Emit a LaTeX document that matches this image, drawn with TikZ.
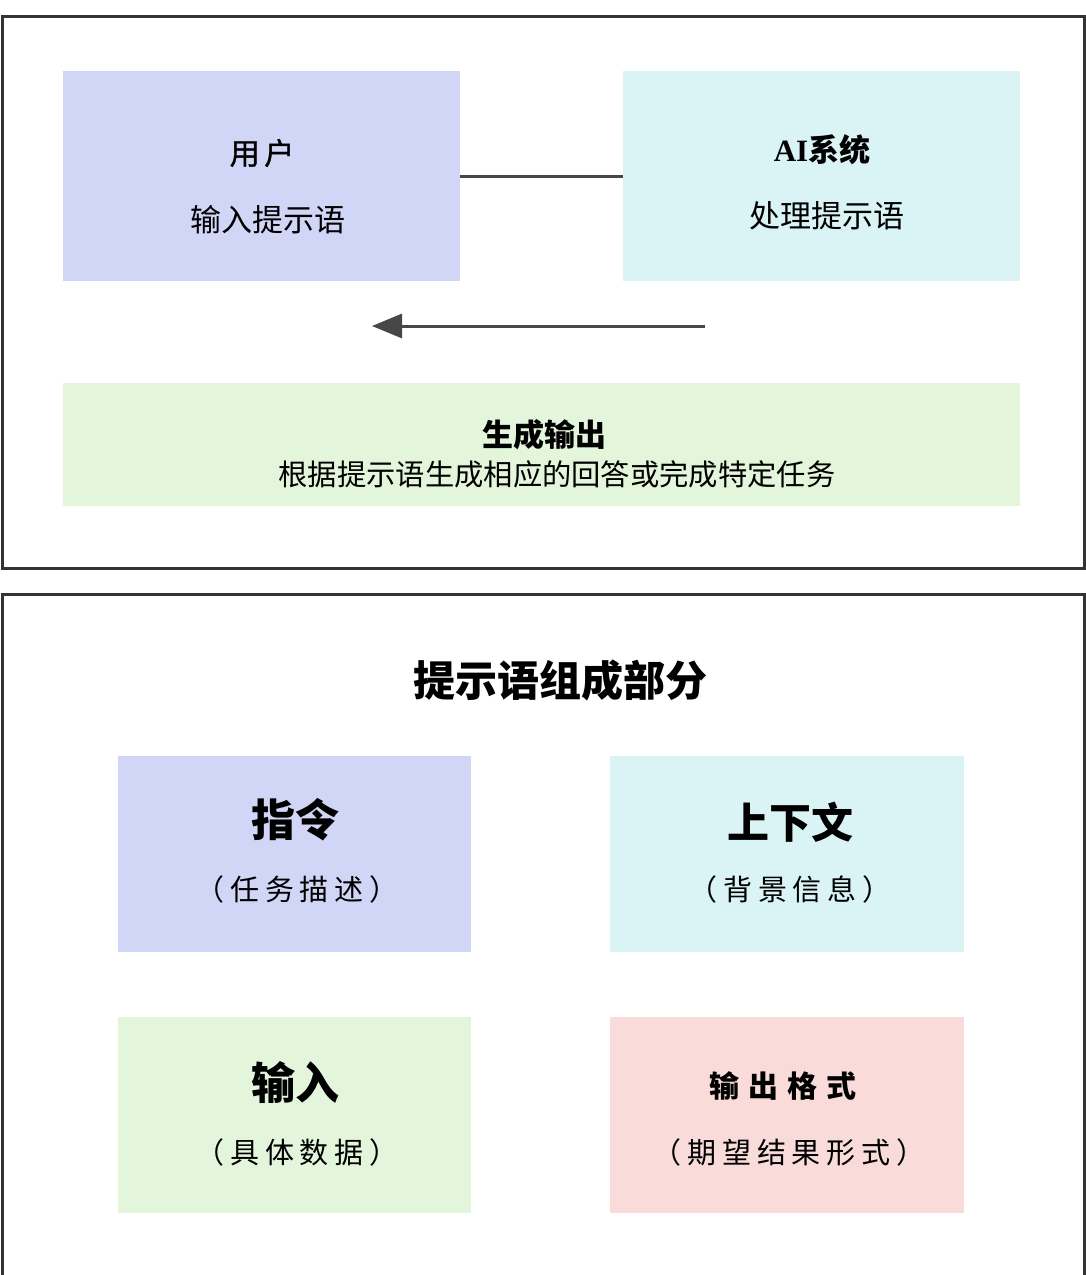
\documentclass[tikz,border=0pt]{standalone}
\usepackage{fontspec}
\setmainfont{Noto Sans CJK SC}
\newfontfamily\cjk{Noto Sans CJK SC}
\newfontfamily\cjkmed[FakeBold=1.2,LetterSpace=15]{Noto Sans CJK SC}
\newfontfamily\cjksp[LetterSpace=20]{Noto Sans CJK SC}
\newfontfamily\cjkspw[LetterSpace=30]{Noto Sans CJK SC}
\newfontfamily\latinserif{Liberation Serif}
\usetikzlibrary{arrows.meta}
\definecolor{lav}{HTML}{D1D5F6}
\definecolor{cyanbox}{HTML}{DAF3F5}
\definecolor{greenbox}{HTML}{E3F5DB}
\definecolor{pinkbox}{HTML}{F9DBDA}
\definecolor{frame}{HTML}{333333}
\tikzset{
  framebox/.style={draw=frame, line width=3pt},
  fillbox/.style={draw=none, inner sep=0pt},
  lbl/.style={inner sep=0pt, anchor=center},
  conn/.style={draw=frame!90, line width=3pt},
}
\begin{document}
\begin{tikzpicture}[x=1pt,y=-1pt]
\useasboundingbox (0,0) rectangle (1086,1275);
\fill[white] (0,0) rectangle (1086,1275);
% frames
\begin{scope}
\clip (0,0) rectangle (1086,1275);
\draw[framebox] (2,16) rectangle (1084,568);
\draw[framebox] (2,594) rectangle (1084,1300);
\end{scope}
% top boxes
\node[fillbox, fill=lav, minimum width=397pt, minimum height=210pt] (user) at (261.5,176) {};
\node[fillbox, fill=cyanbox, minimum width=397pt, minimum height=210pt] (ai) at (821.5,176) {};
\node[fillbox, fill=greenbox, minimum width=957pt, minimum height=123pt] (out) at (541.5,444.5) {};
\node[lbl] (usert) at (262,153) {\fontsize{30}{30}\selectfont\cjkmed 用户};
\node[lbl] (users) at (268,220) {\fontsize{31}{31}\selectfont\cjk 输入提示语};
\node[lbl] (ait) at (822,150) {\fontsize{31}{31}\selectfont\bfseries{\latinserif AI}\cjk 系统};
\node[lbl] (ais) at (827,216) {\fontsize{31}{31}\selectfont\cjk 处理提示语};
\node[lbl] (outt) at (544,435) {\fontsize{31}{31}\selectfont\bfseries\cjk 生成输出};
\node[lbl] (outs) at (557,474) {\fontsize{29.3}{29.3}\selectfont\cjk 根据提示语生成相应的回答或完成特定任务};
\draw[conn] (user.east) -- (ai.west);
\coordinate (arrS) at (705,326);
\coordinate (arrE) at (372,326);
\draw[conn, -{Triangle[length=30pt, width=24pt]}] (arrS) -- (arrE);
% bottom
\node[lbl] (title) at (560,680) {\fontsize{42}{42}\selectfont\bfseries\cjk 提示语组成部分};
\node[fillbox, fill=lav, minimum width=353pt, minimum height=196pt] (b1) at (294.5,854) {};
\node[fillbox, fill=cyanbox, minimum width=354pt, minimum height=196pt] (b2) at (787,854) {};
\node[fillbox, fill=greenbox, minimum width=353pt, minimum height=196pt] (b3) at (294.5,1115) {};
\node[fillbox, fill=pinkbox, minimum width=354pt, minimum height=196pt] (b4) at (787,1115) {};
\node[lbl] (b1t) at (295,820) {\fontsize{44}{44}\selectfont\bfseries\cjk 指令};
\node[lbl] (b1s) at (297,889) {\fontsize{29}{29}\selectfont\cjksp （任务描述）};
\node[lbl] (b2t) at (790,822) {\fontsize{42}{42}\selectfont\bfseries\cjk 上下文};
\node[lbl] (b2s) at (790,889) {\fontsize{29}{29}\selectfont\cjksp （背景信息）};
\node[lbl] (b3t) at (295,1083) {\fontsize{44}{44}\selectfont\bfseries\cjk 输入};
\node[lbl] (b3s) at (297,1152) {\fontsize{29}{29}\selectfont\cjksp （具体数据）};
\node[lbl] (b4t) at (783,1086) {\fontsize{30}{30}\selectfont\bfseries\cjkspw 输出格式};
\node[lbl] (b4s) at (789,1152) {\fontsize{29}{29}\selectfont\cjksp （期望结果形式）};
\end{tikzpicture}
\end{document}
